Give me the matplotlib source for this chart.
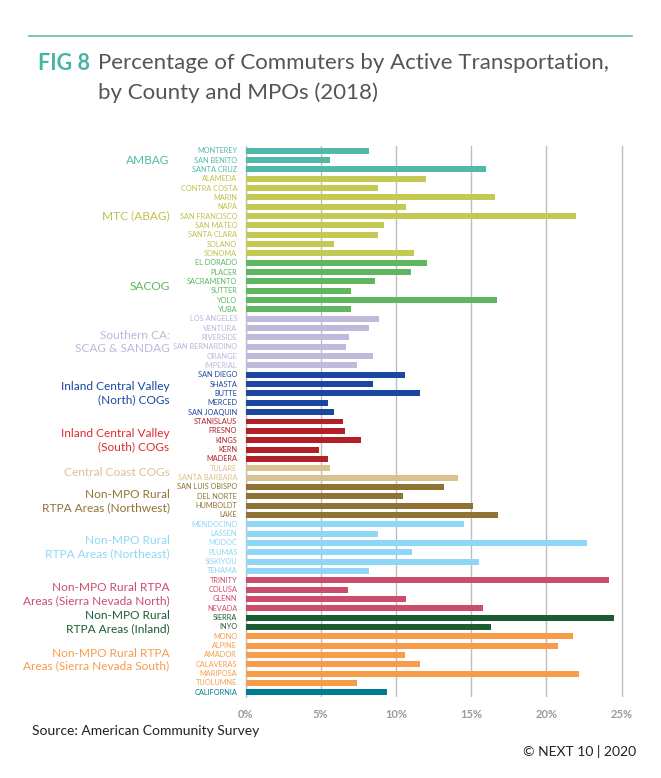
import matplotlib
matplotlib.use("Agg")
import matplotlib.pyplot as plt
from matplotlib.lines import Line2D

counties = ["MONTEREY", "SAN BENITO", "SANTA CRUZ",
            "ALAMEDA", "CONTRA COSTA", "MARIN", "NAPA", "SAN FRANCISCO", "SAN MATEO",
            "SANTA CLARA", "SOLANO", "SONOMA",
            "EL DORADO", "PLACER", "SACRAMENTO", "SUTTER", "YOLO", "YUBA",
            "LOS ANGELES", "VENTURA", "RIVERSIDE", "SAN BERNARDINO", "ORANGE", "IMPERIAL",
            "SAN DIEGO", "SHASTA", "BUTTE", "MERCED", "SAN JOAQUIN",
            "STANISLAUS", "FRESNO", "KINGS", "KERN", "MADERA",
            "TULARE", "SANTA BARBARA",
            "SAN LUIS OBISPO", "DEL NORTE", "HUMBOLDT", "LAKE",
            "MENDOCINO", "LASSEN", "MODOC", "PLUMAS", "SISKIYOU", "TEHAMA",
            "TRINITY", "COLUSA", "GLENN", "NEVADA",
            "SIERRA", "INYO",
            "MONO", "ALPINE", "AMADOR", "CALAVERAS", "MARIPOSA", "TUOLUMNE",
            "CALIFORNIA"]

values = [8.2, 5.6, 16.0,
          12.0, 8.8, 16.6, 10.7, 22.0, 9.2, 8.8, 5.9, 11.2,
          12.1, 11.0, 8.6, 7.0, 16.7, 7.0,
          8.9, 8.2, 6.9, 6.7, 8.5, 7.4,
          10.6, 8.5, 11.6, 5.5, 5.9,
          6.5, 6.6, 7.7, 4.9, 5.5,
          5.6, 14.1,
          13.2, 10.5, 15.1, 16.8,
          14.5, 8.8, 22.7, 11.1, 15.5, 8.2,
          24.2, 6.8, 10.7, 15.8,
          24.5, 16.3,
          21.8, 20.8, 10.6, 11.6, 22.2, 7.4,
          9.4]

group_names = ["AMBAG", "MTC (ABAG)", "SACOG", "Southern CA:\nSCAG & SANDAG",
               "Inland Central Valley\n(North) COGs", "Inland Central Valley\n(South) COGs",
               "Central Coast COGs", "Non-MPO Rural\nRTPA Areas (Northwest)",
               "Non-MPO Rural\nRTPA Areas (Northeast)",
               "Non-MPO Rural RTPA\nAreas (Sierra Nevada North)",
               "Non-MPO Rural\nRTPA Areas (Inland)",
               "Non-MPO Rural RTPA\nAreas (Sierra Nevada South)", ""]
group_sizes = [3, 9, 6, 6, 5, 5, 2, 4, 6, 4, 2, 6, 1]
bar_colors = ["#52B9A9", "#C4C954", "#5EB65F", "#BFB9DC", "#1A48A0", "#B21F27",
              "#D9C290", "#8F7334", "#8ED7F6", "#CC4C6C", "#1B5C33", "#F89C4A", "#007B95"]
label_colors = ["#52B9A9", "#BFC24A", "#5EB65F", "#BDB6DB", "#1A48A0", "#E02A2E",
                "#D9C290", "#8F7334", "#8ED7F6", "#CC4C6C", "#1B5C33", "#F89C4A", "#007B95"]
label_colors_cty = ["#52B9A9", "#BFC24A", "#5EB65F", "#BDB6DB", "#1A48A0", "#B21F27",
                    "#D9C290", "#8F7334", "#8ED7F6", "#CC4C6C", "#1B5C33", "#F89C4A", "#007B95"]

xticks = [0, 5, 10, 15, 20, 25]
xtick_labels = ["0%", "5%", "10%", "15%", "20%", "25%"]

plt.rcParams['font.family'] = ['Lato', 'DejaVu Sans']

fig = plt.figure(figsize=(6.61, 7.78), dpi=100)
ax = fig.add_axes([245.5 / 661, 1 - 697 / 778, (25.5 * 15.04) / 661, 551 / 778])

colors, lcolors = [], []
for g, n in enumerate(group_sizes):
    colors += [bar_colors[g]] * n
    lcolors += [label_colors_cty[g]] * n

ypos = list(range(len(counties)))
ax.barh(ypos, values, height=0.64, color=colors, zorder=3)
ax.set_ylim(len(counties) - 0.5, -0.5)
ax.set_xlim(0, 25.5)

ax.set_xticks(xticks)
ax.set_xticklabels(xtick_labels, color="#9a9a9a", fontsize=8, fontweight="bold")
ax.tick_params(axis="x", length=0, pad=9)
ax.set_yticks([])
for s in ["top", "right", "bottom"]:
    ax.spines[s].set_visible(False)
ax.spines["left"].set_color("#c0c0c0")
ax.spines["left"].set_linewidth(1)
ax.grid(axis="x", color="#bdbdbd", linewidth=1, zorder=0)
ax.set_axisbelow(True)

# county labels
for i, (name, c) in enumerate(zip(counties, lcolors)):
    ax.text(-0.55, i, name, ha="right", va="center", fontsize=5.3, color=c,
            transform=ax.transData, clip_on=False)

# group labels
start = 0
for g, n in enumerate(group_sizes):
    center = start + (n - 1) / 2
    if group_names[g]:
        ax.text(-5.05, center, group_names[g], ha="right", va="center",
                fontsize=8.6, color=label_colors[g], linespacing=1.25, clip_on=False)
    start += n

# header
fig.add_artist(Line2D([29 / 661, 632 / 661], [1 - 36 / 778, 1 - 36 / 778],
                      color="#5DBFAE", linewidth=1.2))
fig.text(38 / 661, 1 - 63 / 778, "FIG 8", fontsize=15.5, fontweight="bold",
         color="#45B5A2", ha="left", va="center")
fig.text(98 / 661, 1 - 63 / 778, "Percentage of Commuters by Active Transportation,",
         fontsize=16, color="#555555", ha="left", va="center")
fig.text(98 / 661, 1 - 93 / 778, "by County and MPOs (2018)",
         fontsize=16, color="#555555", ha="left", va="center")

fig.text(32 / 661, 1 - 731 / 778, "Source: American Community Survey",
         fontsize=10, color="#222222", ha="left", va="center")
fig.text(636 / 661, 1 - 751 / 778, "© NEXT 10 | 2020",
         fontsize=10, color="#222222", ha="right", va="center")

fig.savefig("out.png", dpi=100)
